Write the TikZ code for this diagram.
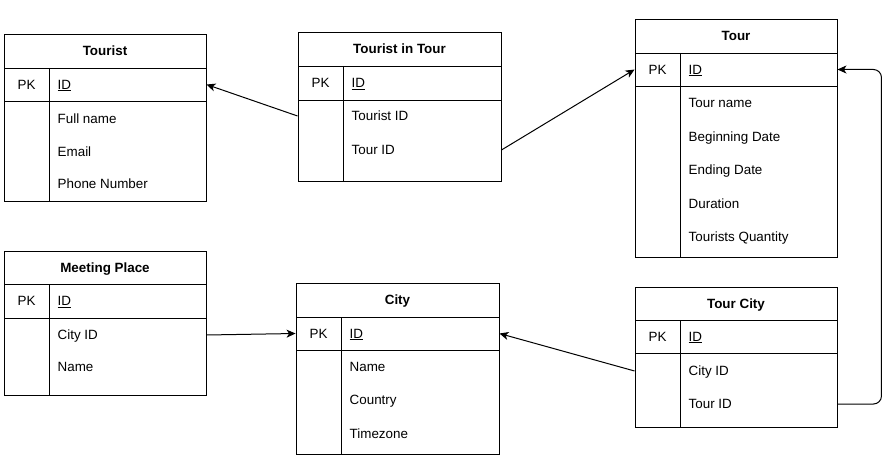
\documentclass[tikz,border=0pt]{standalone}
\usepackage{fontspec}
\setmainfont{Liberation Sans}
\usetikzlibrary{arrows.meta}
\newcommand\erfont{\fontsize{13.4}{15}\selectfont}
\tikzset{
  tbl/.style={draw, line width=0.9pt},
  hdr/.style={draw, line width=0.9pt, minimum width=202pt, minimum height=34pt, font=\erfont\bfseries, text height=12.5pt, text depth=3pt},
  fld/.style={anchor=west, inner sep=0pt, text height=12.5pt, text depth=3pt},
  pk/.style={inner sep=0pt, text height=12.5pt, text depth=3pt},
  fk/.style={line width=1pt, -{Stealth[length=9pt,width=8pt,inset=2.5pt]}}
}

\begin{document}
\begin{tikzpicture}[x=1pt, y=-1pt, font=\erfont]
  \useasboundingbox (0,0) rectangle (896,465);
  % Tourist
  \node[hdr] (tourist) at (105,51) {Tourist};
  \draw[tbl] (4,68) rectangle (206,201); \draw[tbl] (49,68) -- (49,201); \draw[tbl] (4,101) -- (206,101);
  \node[pk] (touristpk) at (26.5,84.5) {PK}; \node[fld] (touristid) at (57.5,84.5) {\underline{ID}};
  \node[fld] (touristname) at (57.5,119) {Full name}; \node[fld] (touristmail) at (57.5,152) {Email}; \node[fld] (touristphone) at (57.5,184) {Phone Number};
  % Tourist in Tour
  \node[hdr, minimum width=203pt] (tit) at (399.5,49) {Tourist in Tour};
  \draw[tbl] (298,66) rectangle (501,181); \draw[tbl] (343,66) -- (343,181); \draw[tbl] (298,100) -- (501,100);
  \node[pk] (titpk) at (320.5,83) {PK}; \node[fld] (titid) at (351.5,83) {\underline{ID}};
  \node[fld] (tittourist) at (351.5,116) {Tourist ID}; \node[fld] (tittour) at (351.5,150) {Tour ID};
  % Tour
  \node[hdr] (tour) at (736,36) {Tour};
  \draw[tbl] (635,53) rectangle (837,257); \draw[tbl] (680,53) -- (680,257); \draw[tbl] (635,86) -- (837,86);
  \node[pk] (tourpk) at (657.5,69.5) {PK}; \node[fld] (tourid) at (688.5,69.5) {\underline{ID}};
  \node[fld] (tourname) at (688.5,103) {Tour name}; \node[fld] (tourbegin) at (688.5,137) {Beginning Date};
  \node[fld] (tourend) at (688.5,170) {Ending Date}; \node[fld] (tourdur) at (688.5,204) {Duration};
  \node[fld] (tourqty) at (688.5,237) {Tourists Quantity};
  % Meeting Place
  \node[hdr, minimum height=33pt] (meeting) at (105,267.5) {Meeting Place};
  \draw[tbl] (4,284) rectangle (206,395); \draw[tbl] (49,284) -- (49,395); \draw[tbl] (4,318) -- (206,318);
  \node[pk] (meetingpk) at (26.5,301) {PK}; \node[fld] (meetingid) at (57.5,301) {\underline{ID}};
  \node[fld] (meetingcity) at (57.5,335) {City ID}; \node[fld] (meetingname) at (57.5,367) {Name};
  % City
  \node[hdr, minimum width=203pt] (city) at (397.5,300) {City};
  \draw[tbl] (296,317) rectangle (499,454); \draw[tbl] (341,317) -- (341,454); \draw[tbl] (296,350) -- (499,350);
  \node[pk] (citypk) at (318.5,333.5) {PK}; \node[fld] (cityid) at (349.5,333.5) {\underline{ID}};
  \node[fld] (cityname) at (349.5,367) {Name}; \node[fld] (citycountry) at (349.5,400) {Country}; \node[fld] (citytz) at (349.5,434) {Timezone};
  % Tour City
  \node[hdr, minimum height=33pt] (tourcity) at (736,303.5) {Tour City};
  \draw[tbl] (635,320) rectangle (837,427); \draw[tbl] (680,320) -- (680,427); \draw[tbl] (635,353) -- (837,353);
  \node[pk] (tourcitypk) at (657.5,336.5) {PK}; \node[fld] (tourcityid) at (688.5,336.5) {\underline{ID}};
  \node[fld] (tourcitycity) at (688.5,371) {City ID}; \node[fld] (tourcitytour) at (688.5,404) {Tour ID};
  % links
  \draw[fk] (tit.west |- tittourist) -- (tourist.east |- touristid);
  \draw[fk] (tit.east |- tittour) -- (tour.west |- tourid);
  \draw[fk] (meeting.east |- meetingcity) -- (city.west |- cityid);
  \draw[fk] (tourcity.west |- tourcitycity) -- (city.east |- cityid);
  \draw[fk, rounded corners=8pt] (tourcity.east |- tourcitytour) -- ++(44,0) |- (tour.east |- tourid);
\end{tikzpicture}
\end{document}
